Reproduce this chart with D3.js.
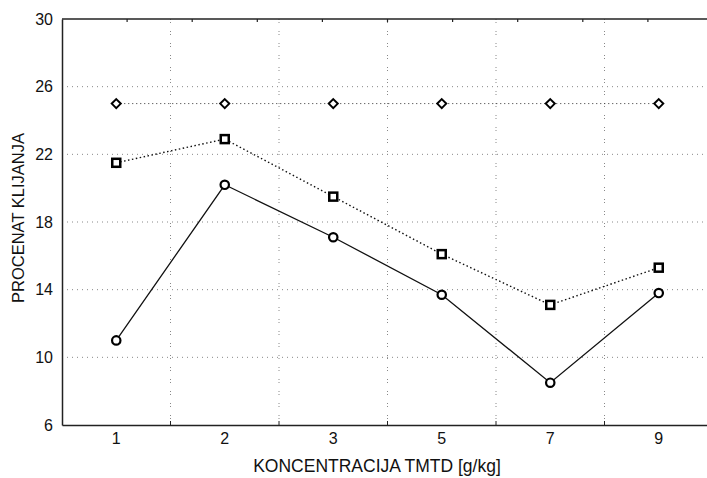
<!DOCTYPE html>
<html><head><meta charset="utf-8">
<script src="https://cdn.jsdelivr.net/npm/d3@7"></script>
<style>body{margin:0;background:#fff}svg{display:block}text{font-family:"Liberation Sans",Arial,sans-serif;fill:#111}</style>
</head><body>
<svg id="c" width="707" height="478"></svg>
<script>
const categories = ["1","2","3","5","7","9"];
const seriesDiamond = [25,25,25,25,25,25];
const seriesSquare = [21.5,22.9,19.5,16.1,13.1,15.3];
const seriesCircle = [11.0,20.2,17.1,13.7,8.5,13.8];
const yTicks = [6,10,14,18,22,26,30];
const xTitle = "KONCENTRACIJA TMTD [g/kg]";
const yTitle = "PROCENAT KLIJANJA";

const svg = d3.select("#c");
const L=62, R=713, T=19, B=425;
const x = d3.scaleBand().domain(categories).range([L,R]);
const y = d3.scaleLinear().domain([6,30]).range([B,T]);
const cx = d => x(d)+x.bandwidth()/2;

// grid
svg.append("g").selectAll("line").data(yTicks.filter(t=>t>6&&t<30)).join("line")
  .attr("x1",L).attr("x2",R).attr("y1",d=>y(d)).attr("y2",d=>y(d))
  .attr("stroke","#888").attr("stroke-width",1).attr("stroke-dasharray","1,4");
svg.append("g").selectAll("line").data(categories.slice(1)).join("line")
  .attr("x1",d=>x(d)).attr("x2",d=>x(d)).attr("y1",T).attr("y2",B)
  .attr("stroke","#888").attr("stroke-width",1).attr("stroke-dasharray","1,2,1,8");

// axes
const yAxis = d3.axisLeft(y).tickValues(yTicks).tickSize(0).tickPadding(9);
const gy = svg.append("g").attr("transform",`translate(${L},0)`).call(yAxis);
gy.select(".domain").attr("stroke","#222").attr("stroke-width",1.5);
gy.selectAll("text").attr("font-size",16).attr("font-family","Liberation Sans, Arial").attr("fill","#111");

const xAxis = d3.axisBottom(x).tickSize(0).tickPadding(8);
const gx = svg.append("g").attr("transform",`translate(0,${B})`).call(xAxis);
gx.select(".domain").attr("stroke","#222").attr("stroke-width",1.5);
gx.selectAll("text").attr("font-size",16).attr("font-family","Liberation Sans, Arial").attr("fill","#111");
// boundary ticks on bottom axis
svg.append("g").selectAll("line").data(categories.slice(1)).join("line")
  .attr("x1",d=>x(d)).attr("x2",d=>x(d)).attr("y1",B).attr("y2",B-4)
  .attr("stroke","#222").attr("stroke-width",1);
// top axis
const xTop = d3.scaleLinear().domain([0,10]).range([L,R]);
svg.append("line").attr("x1",L).attr("x2",R).attr("y1",T).attr("y2",T).attr("stroke","#222").attr("stroke-width",1.5);
svg.append("g").selectAll("line").data(d3.range(1,10)).join("line")
  .attr("x1",d=>xTop(d)).attr("x2",d=>xTop(d)).attr("y1",T).attr("y2",T+3)
  .attr("stroke","#222").attr("stroke-width",1.2);

// titles
svg.append("text").attr("x",377).attr("y",472).attr("text-anchor","middle").attr("font-size",17.5).text(xTitle);
svg.append("text").attr("transform","translate(24,218) rotate(-90)").attr("text-anchor","middle").attr("font-size",16.5).text(yTitle);

// lines
const line = vals => d3.line().x((d,i)=>cx(categories[i])).y(d=>y(d))(vals);
svg.append("path").attr("d",line(seriesDiamond)).attr("fill","none").attr("stroke","#333").attr("stroke-width",1).attr("stroke-dasharray","1,3");
svg.append("path").attr("d",line(seriesSquare)).attr("fill","none").attr("stroke","#111").attr("stroke-width",1.4).attr("stroke-dasharray","1.5,2.5");
svg.append("path").attr("d",line(seriesCircle)).attr("fill","none").attr("stroke","#111").attr("stroke-width",1.3);

// markers
const diamond = "M0,-4.5L4.5,0L0,4.5L-4.5,0Z";
svg.append("g").selectAll("path").data(seriesDiamond).join("path")
  .attr("d",diamond)
  .attr("transform",(d,i)=>`translate(${cx(categories[i])},${y(d)})`)
  .attr("fill","#fff").attr("stroke","#000").attr("stroke-width",2);
svg.append("g").selectAll("rect").data(seriesSquare).join("rect")
  .attr("x",(d,i)=>cx(categories[i])-4).attr("y",d=>y(d)-4).attr("width",8).attr("height",8)
  .attr("fill","#fff").attr("stroke","#000").attr("stroke-width",2.5);
svg.append("g").selectAll("circle").data(seriesCircle).join("circle")
  .attr("cx",(d,i)=>cx(categories[i])).attr("cy",d=>y(d)).attr("r",4.2)
  .attr("fill","#fff").attr("stroke","#000").attr("stroke-width",2.2);
</script>
</body></html>
